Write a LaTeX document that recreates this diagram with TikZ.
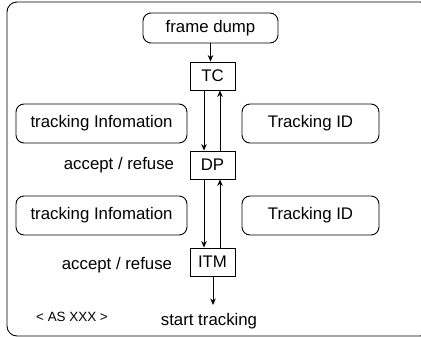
\documentclass[tikz,border=0pt]{standalone}
\usepackage{fontspec}
\setmainfont{Liberation Sans}
\usetikzlibrary{arrows.meta}
\begin{document}
\begin{tikzpicture}[x=1pt,y=-1pt,
  every node/.style={font=\fontsize{16.8}{19}\selectfont, inner sep=0pt},
  small/.style={font=\fontsize{13.4}{16}\selectfont},
  pill/.style={draw, rounded corners=8pt, line width=0.9pt, minimum height=39pt},
  unit/.style={draw, line width=0.9pt, minimum width=45pt, minimum height=28pt},
  flow/.style={line width=0.9pt, -{Stealth[length=6.5pt,width=5.5pt]}}]
\useasboundingbox (0,0) rectangle (421,337);
\clip (0,0) rectangle (421,337);
% outer frame
\draw[line width=0.9pt, rounded corners=10pt] (7,2) rectangle (430,336);
% source
\node[pill, minimum width=135pt, minimum height=30pt] (fd) at (210.5,28) {frame dump};
% processing units
\node[unit] (tc)  at (212.5,76)  {TC};
\node[unit] (dp)  at (212.5,165) {DP};
\node[unit] (itm) at (212.5,262) {ITM};
% side boxes
\node[pill, minimum width=171pt] (ti1) at (101.5,123.5) {tracking Infomation};
\node[pill, minimum width=137pt] (id1) at (310.5,123.5) {Tracking ID};
\node[pill, minimum width=171pt] (ti2) at (101.5,215.5) {tracking Infomation};
\node[pill, minimum width=137pt] (id2) at (310.5,215.5) {Tracking ID};
% labels
\node (ar1) at (119,165) {accept / refuse};
\node (ar2) at (117,265) {accept / refuse};
\node[small] (as) at (72,317) {< AS XXX >};
\node (st)  at (209,321) {start tracking};
\coordinate (end) at (213,305);
% connectors
\draw[flow] (fd.south) -- (fd.south |- tc.north);
\draw[flow] ([xshift=-8.5pt]tc.south) -- ([xshift=-8.5pt]dp.north);
\draw[flow] ([xshift=7.5pt]dp.north) -- ([xshift=7.5pt]tc.south);
\draw[flow] ([xshift=-8.5pt]dp.south) -- ([xshift=-8.5pt]itm.north);
\draw[flow] ([xshift=7.5pt]itm.north) -- ([xshift=7.5pt]dp.south);
\draw[flow] (itm.south -| end) -- (end);
\end{tikzpicture}
\end{document}
